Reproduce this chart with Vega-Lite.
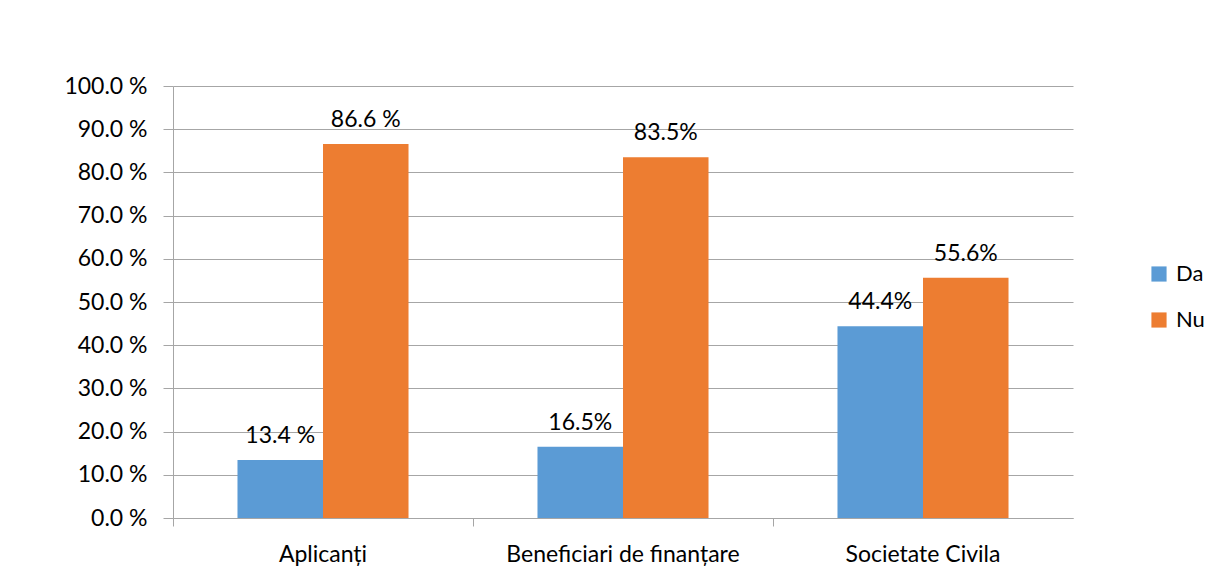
{
  "$schema": "https://vega.github.io/schema/vega-lite/v6.json",
  "width": 900,
  "height": 432,
  "autosize": {"type": "none"},
  "padding": {"left": 173, "top": 86, "right": 142, "bottom": 61},
  "background": "white",
  "config": {
    "font": "Lato",
    "view": {"stroke": null},
    "axis": {"labelFont": "Lato", "labelFontSize": 23, "labelColor": "#000000", "domainColor": "#a6a6a6", "tickColor": "#a6a6a6", "gridColor": "#a6a6a6", "labelOverlap": false, "labelLimit": 0},
    "legend": {"padding": 0}
  },
  "data": {
    "values": [
      {"cat": "Aplicanți", "serie": "Da", "val": 13.4, "lbl": "13.4 %"},
      {"cat": "Aplicanți", "serie": "Nu", "val": 86.6, "lbl": "86.6 %"},
      {"cat": "Beneficiari de finanțare", "serie": "Da", "val": 16.5, "lbl": "16.5%"},
      {"cat": "Beneficiari de finanțare", "serie": "Nu", "val": 83.5, "lbl": "83.5%"},
      {"cat": "Societate Civila", "serie": "Da", "val": 44.4, "lbl": "44.4%"},
      {"cat": "Societate Civila", "serie": "Nu", "val": 55.6, "lbl": "55.6%"}
    ]
  },
  "encoding": {
    "x": {
      "field": "cat", "type": "nominal", "sort": null,
      "scale": {"paddingInner": 0, "paddingOuter": 0},
      "axis": {"title": null, "labelAngle": 0, "bandPosition": 0, "tickSize": 8, "labelPadding": 17, "grid": false}
    },
    "xOffset": {"field": "serie", "type": "nominal", "scale": {"paddingInner": 0, "paddingOuter": 0.754}},
    "y": {
      "field": "val", "type": "quantitative",
      "scale": {"domain": [0, 100], "nice": false},
      "axis": {"title": null, "values": [0,10,20,30,40,50,60,70,80,90,100], "labelExpr": "format(datum.value, '.1f') + ' %'", "tickSize": 10, "labelPadding": 16, "grid": true, "domain": true}
    }
  },
  "layer": [
    {
      "mark": {"type": "bar"},
      "encoding": {
        "color": {
          "field": "serie", "type": "nominal",
          "scale": {"domain": ["Da", "Nu"], "range": ["#5b9bd5", "#ed7d31"]},
          "legend": {"title": null, "orient": "none", "legendX": 975, "legendY": 177, "symbolType": "square", "symbolSize": 230, "symbolStrokeWidth": 0, "labelFontSize": 22, "labelFont": "Lato", "labelColor": "#000000", "rowPadding": 24, "labelOffset": 6}
        }
      }
    },
    {
      "mark": {"type": "text", "baseline": "bottom", "dy": -12, "fontSize": 23, "font": "Lato", "color": "#000000"},
      "encoding": {"text": {"field": "lbl"}}
    }
  ]
}
